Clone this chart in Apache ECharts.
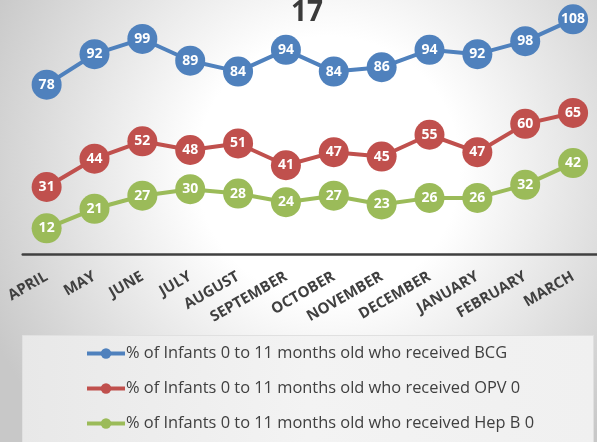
<!DOCTYPE html>
<html>
<head>
<meta charset="utf-8">
<script src="https://cdn.jsdelivr.net/npm/echarts@6/dist/echarts.min.js"></script>
<style>html,body{margin:0;padding:0;}#c{width:597px;height:442px;}</style>
</head>
<body>
<div id="c"></div>
<script>
const months = ['APRIL','MAY','JUNE','JULY','AUGUST','SEPTEMBER','OCTOBER','NOVEMBER','DECEMBER','JANUARY','FEBRUARY','MARCH'];
const bcg = [78, 92, 99, 89, 84, 94, 84, 86, 94, 92, 98, 108];
const opv0 = [31, 44, 52, 48, 51, 41, 47, 45, 55, 47, 60, 65];
const hepb0 = [12, 21, 27, 30, 28, 24, 27, 23, 26, 26, 32, 42];
const seriesNames = [
  '% of Infants 0 to 11 months old who received BCG',
  '% of Infants 0 to 11 months old who received OPV 0',
  '% of Infants 0 to 11 months old who received Hep B 0'
];
const titleText = '17';

const colors = ['#4F81BD', '#C0504D', '#9BBB59'];
const chart = echarts.init(document.getElementById('c'), null, {renderer: 'canvas'});

function mk(name, data, color) {
  return {
    name: name,
    type: 'line',
    data: data,
    symbol: 'circle',
    symbolSize: 30,
    clip: false,
    lineStyle: {color: color, width: 4},
    itemStyle: {color: color},
    label: {
      show: true, position: 'inside', color: '#ffffff',
      fontFamily: 'Open Sans', fontWeight: 'bold', fontSize: 14
    },
    emphasis: {disabled: true},
    animation: false
  };
}

chart.setOption({
  animation: false,
  backgroundColor: {
    type: 'radial', x: 0.55, y: 0.38, r: 0.85,
    colorStops: [
      {offset: 0, color: '#ffffff'},
      {offset: 0.35, color: '#ffffff'},
      {offset: 1, color: '#c8c8c8'}
    ]
  },
  title: {
    text: titleText, left: 291, top: -1, padding: 0,
    textStyle: {fontFamily: 'Open Sans', fontWeight: 'bold', fontSize: 28, color: '#3a3a3a'}
  },
  graphic: [{
    type: 'rect', left: 22, top: 335, z: -1,
    shape: {width: 571, height: 110},
    style: {
      fill: {type: 'linear', x: 0, y: 0, x2: 1, y2: 0,
        colorStops: [{offset: 0, color: '#e8e8e8'}, {offset: 0.5, color: '#f3f3f3'}, {offset: 1, color: '#f0f0f0'}]},
      stroke: '#e0e0e0', lineWidth: 1
    }
  }],
  legend: {
    orient: 'vertical', left: 85, top: 345.5, itemGap: 19, padding: 0,
    itemWidth: 38, itemHeight: 13,
    lineStyle: {width: 4},
    textStyle: {fontFamily: 'Open Sans', fontSize: 16.4, color: '#404040', padding: [0, 0, 0, -4]},
    data: seriesNames
  },
  grid: {left: 22.7, right: -9.3, top: 15, bottom: 187.5, containLabel: false},
  xAxis: {
    type: 'category', data: months, boundaryGap: true,
    axisLine: {lineStyle: {color: '#404040', width: 2.5}},
    axisTick: {show: false},
    axisLabel: {rotate: 30, margin: 21, color: '#404040', fontFamily: 'Open Sans', fontWeight: 'bold', fontSize: 15, interval: 0}
  },
  yAxis: {type: 'value', min: 0, max: 110, show: false, splitLine: {show: false}},
  series: [
    mk(seriesNames[0], bcg, colors[0]),
    mk(seriesNames[1], opv0, colors[1]),
    mk(seriesNames[2], hepb0, colors[2])
  ]
});
</script>
</body>
</html>
